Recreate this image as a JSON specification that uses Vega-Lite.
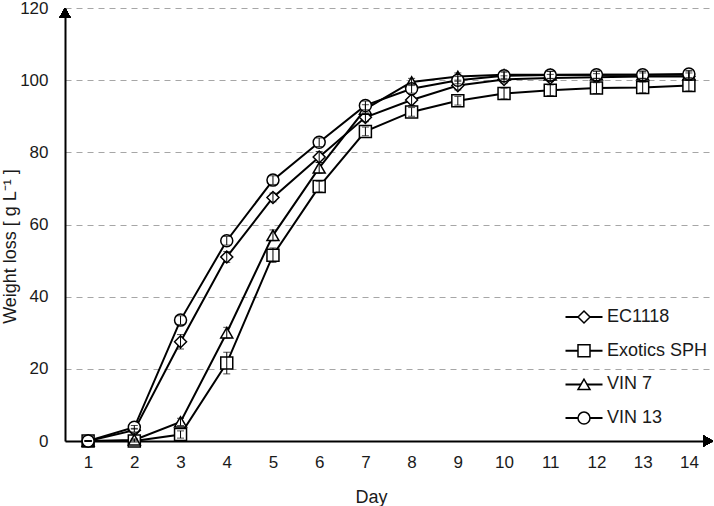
{
  "$schema": "https://vega.github.io/schema/vega-lite/v6.json",
  "autosize": "none",
  "padding": {"left": 65, "top": 8, "right": 2, "bottom": 65},
  "width": 647,
  "height": 433,
  "background": "white",
  "config": {
    "view": {"stroke": null},
    "font": "Liberation Sans",
    "axis": {
      "labelFont": "Liberation Sans",
      "titleFont": "Liberation Sans",
      "titleFontWeight": "normal",
      "labelColor": "#1a1a1a",
      "titleColor": "#1a1a1a",
      "domainColor": "black",
      "domainWidth": 2,
      "ticks": false,
      "tickSize": 0
    },
    "legend": {
      "labelFont": "Liberation Sans",
      "labelFontSize": 18,
      "labelColor": "#1a1a1a",
      "padding": 0
    }
  },
  "data": {
    "values": [
      {"day": 1, "strain": "EC1118", "loss": 0, "err": 0},
      {"day": 2, "strain": "EC1118", "loss": 3, "err": 0.5},
      {"day": 3, "strain": "EC1118", "loss": 27.5, "err": 2},
      {"day": 4, "strain": "EC1118", "loss": 51, "err": 1.5},
      {"day": 5, "strain": "EC1118", "loss": 67.5, "err": 1.2},
      {"day": 6, "strain": "EC1118", "loss": 78.7, "err": 1.5},
      {"day": 7, "strain": "EC1118", "loss": 89.7, "err": 1.2},
      {"day": 8, "strain": "EC1118", "loss": 94.5, "err": 1.5},
      {"day": 9, "strain": "EC1118", "loss": 98.5, "err": 1.2},
      {"day": 10, "strain": "EC1118", "loss": 100.2, "err": 1},
      {"day": 11, "strain": "EC1118", "loss": 100.6, "err": 1},
      {"day": 12, "strain": "EC1118", "loss": 100.8, "err": 1},
      {"day": 13, "strain": "EC1118", "loss": 101, "err": 1},
      {"day": 14, "strain": "EC1118", "loss": 101, "err": 1},
      {"day": 1, "strain": "Exotics SPH", "loss": 0, "err": 0},
      {"day": 2, "strain": "Exotics SPH", "loss": 0, "err": 0.3},
      {"day": 3, "strain": "Exotics SPH", "loss": 1.8, "err": 1},
      {"day": 4, "strain": "Exotics SPH", "loss": 21.6, "err": 3},
      {"day": 5, "strain": "Exotics SPH", "loss": 51.5, "err": 2},
      {"day": 6, "strain": "Exotics SPH", "loss": 70.5, "err": 1.5},
      {"day": 7, "strain": "Exotics SPH", "loss": 85.8, "err": 1.2},
      {"day": 8, "strain": "Exotics SPH", "loss": 91.2, "err": 1.2},
      {"day": 9, "strain": "Exotics SPH", "loss": 94.3, "err": 1.2},
      {"day": 10, "strain": "Exotics SPH", "loss": 96.3, "err": 1.5},
      {"day": 11, "strain": "Exotics SPH", "loss": 97.2, "err": 1.5},
      {"day": 12, "strain": "Exotics SPH", "loss": 97.8, "err": 1.5},
      {"day": 13, "strain": "Exotics SPH", "loss": 98, "err": 1.5},
      {"day": 14, "strain": "Exotics SPH", "loss": 98.5, "err": 1.5},
      {"day": 1, "strain": "VIN 7", "loss": 0, "err": 0},
      {"day": 2, "strain": "VIN 7", "loss": 0.3, "err": 0.3},
      {"day": 3, "strain": "VIN 7", "loss": 5.3, "err": 1},
      {"day": 4, "strain": "VIN 7", "loss": 30, "err": 1.5},
      {"day": 5, "strain": "VIN 7", "loss": 57, "err": 1.5},
      {"day": 6, "strain": "VIN 7", "loss": 75.7, "err": 1.5},
      {"day": 7, "strain": "VIN 7", "loss": 92, "err": 1.2},
      {"day": 8, "strain": "VIN 7", "loss": 99.5, "err": 1},
      {"day": 9, "strain": "VIN 7", "loss": 101, "err": 1},
      {"day": 10, "strain": "VIN 7", "loss": 101.5, "err": 1},
      {"day": 11, "strain": "VIN 7", "loss": 101.5, "err": 1},
      {"day": 12, "strain": "VIN 7", "loss": 101.5, "err": 1},
      {"day": 13, "strain": "VIN 7", "loss": 101.5, "err": 1},
      {"day": 14, "strain": "VIN 7", "loss": 101.5, "err": 1},
      {"day": 1, "strain": "VIN 13", "loss": 0, "err": 0},
      {"day": 2, "strain": "VIN 13", "loss": 3.8, "err": 0.5},
      {"day": 3, "strain": "VIN 13", "loss": 33.5, "err": 1.2},
      {"day": 4, "strain": "VIN 13", "loss": 55.5, "err": 1.2},
      {"day": 5, "strain": "VIN 13", "loss": 72.3, "err": 1.2},
      {"day": 6, "strain": "VIN 13", "loss": 82.8, "err": 1.2},
      {"day": 7, "strain": "VIN 13", "loss": 93, "err": 1.2},
      {"day": 8, "strain": "VIN 13", "loss": 97.6, "err": 1.2},
      {"day": 9, "strain": "VIN 13", "loss": 100, "err": 1},
      {"day": 10, "strain": "VIN 13", "loss": 101.2, "err": 1},
      {"day": 11, "strain": "VIN 13", "loss": 101.4, "err": 1},
      {"day": 12, "strain": "VIN 13", "loss": 101.5, "err": 1},
      {"day": 13, "strain": "VIN 13", "loss": 101.5, "err": 1},
      {"day": 14, "strain": "VIN 13", "loss": 101.7, "err": 1}
    ]
  },
  "encoding": {
    "x": {
      "field": "day",
      "type": "quantitative",
      "scale": {"domain": [0.5, 14.5], "nice": false, "zero": false},
      "axis": {
        "title": "Day",
        "values": [1, 2, 3, 4, 5, 6, 7, 8, 9, 10, 11, 12, 13, 14],
        "grid": false,
        "labelFontSize": 17,
        "titleFontSize": 18,
        "labelPadding": 13,
        "titleX": 306,
        "titleY": 61,
        "titleBaseline": "alphabetic"
      }
    },
    "y": {
      "field": "loss",
      "type": "quantitative",
      "scale": {"domain": [0, 120], "nice": false},
      "axis": {
        "title": "Weight loss [ g L⁻¹ ]",
        "values": [0, 20, 40, 60, 80, 100, 120],
        "grid": true,
        "gridColor": "#a6a6a6",
        "gridDash": [6, 5],
        "gridWidth": 1.2,
        "labelFontSize": 17,
        "titleFontSize": 18,
        "labelPadding": 17,
        "titleX": -46,
        "titleY": 238,
        "titleAngle": -90,
        "titleBaseline": "bottom",
        "titleAlign": "center"
      }
    }
  },
  "layer": [
    {
      "mark": {"type": "line", "strokeWidth": 2},
      "encoding": {
        "color": {
          "field": "strain",
          "type": "nominal",
          "scale": {"range": ["black", "black", "black", "black"]},
          "legend": {
            "title": null,
            "orient": "none",
            "legendX": 499.5,
            "legendY": 289.5,
            "symbolType": "stroke",
            "symbolSize": 1369,
            "symbolStrokeWidth": 2,
            "symbolStrokeColor": "black",
            "labelColor": "transparent",
            "labelOffset": 4,
            "rowPadding": 4.7
          }
        }
      }
    },
    {
      "mark": {
        "type": "point",
        "filled": true,
        "fill": "white",
        "stroke": "black",
        "strokeWidth": 1.5,
        "size": 144,
        "opacity": 1
      },
      "encoding": {
        "shape": {
          "field": "strain",
          "type": "nominal",
          "scale": {
            "domain": ["EC1118", "Exotics SPH", "VIN 7", "VIN 13"],
            "range": ["diamond", "square", "triangle-up", "circle"]
          },
          "legend": {
            "title": null,
            "orient": "none",
            "legendX": 510,
            "legendY": 300,
            "symbolSize": 144,
            "labelOffset": 14,
            "rowPadding": 15.7
          }
        }
      }
    },
    {
      "mark": {
        "type": "errorbar",
        "color": "black",
        "thickness": 1,
        "ticks": {"size": 7, "thickness": 1, "color": "black"}
      },
      "encoding": {
        "y": {"field": "loss", "type": "quantitative"},
        "yError": {"field": "err"}
      }
    },
    {
      "mark": {"type": "point", "shape": "triangle-up", "filled": true, "color": "black", "size": 121, "opacity": 1},
      "encoding": {
        "x": {"datum": 0.5, "type": "quantitative"},
        "y": {"datum": 118.67, "type": "quantitative"}
      }
    },
    {
      "mark": {"type": "point", "shape": "triangle-right", "filled": true, "color": "black", "size": 121, "opacity": 1},
      "encoding": {
        "x": {"datum": 14.418, "type": "quantitative"},
        "y": {"datum": 0, "type": "quantitative"}
      }
    }
  ]
}
